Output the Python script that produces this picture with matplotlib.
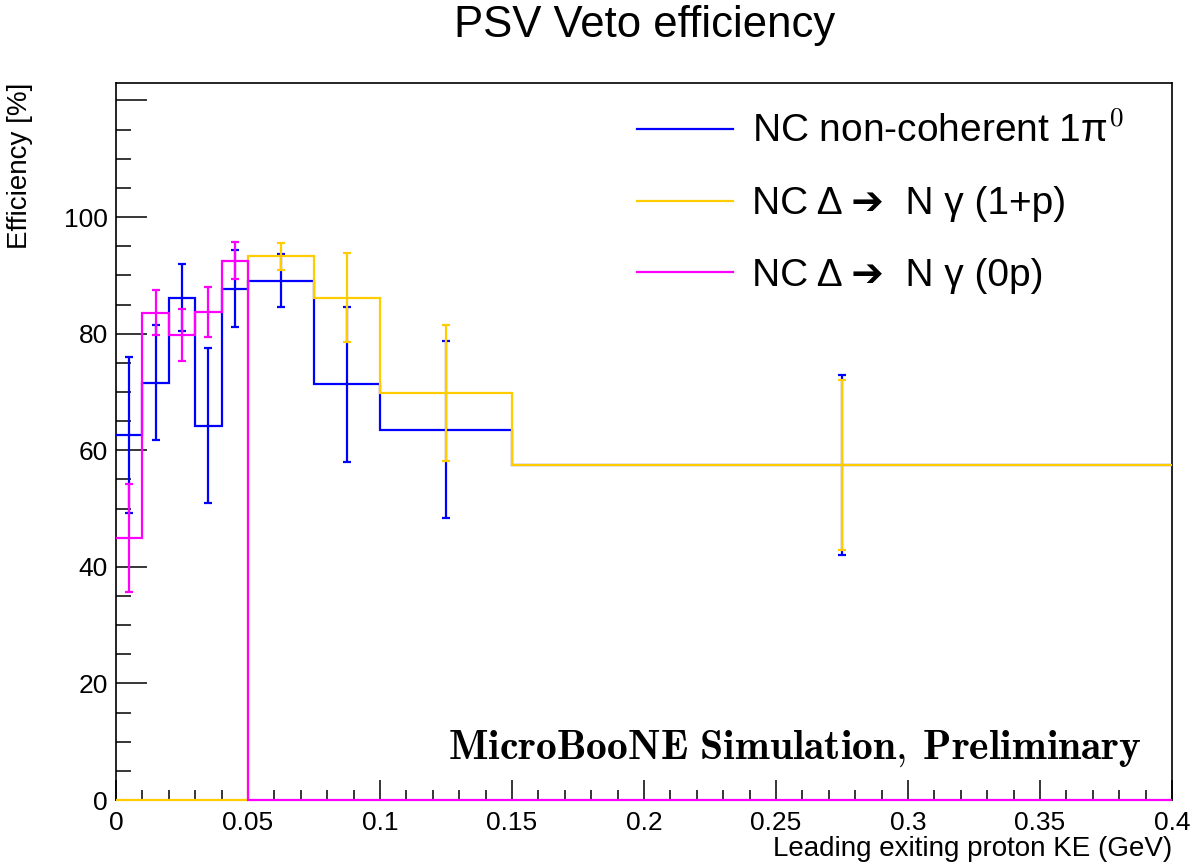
import numpy as np
import matplotlib
matplotlib.use("Agg")
import matplotlib.pyplot as plt
from matplotlib.lines import Line2D
from matplotlib.ticker import MultipleLocator, FixedLocator

plt.rcParams['font.family'] = ['Liberation Sans', 'DejaVu Sans']
plt.rcParams['mathtext.fontset'] = 'cm'

# bin edges (GeV) and efficiencies (%)
edges = [0, 0.01, 0.02, 0.03, 0.04, 0.05, 0.075, 0.1, 0.15, 0.4]
eff_pi0 = [62.6, 71.6, 86.2, 64.2, 87.7, 89.1, 71.3, 63.5, 57.5]
err_pi0 = [13.4, 9.8, 5.7, 13.3, 6.6, 4.5, 13.3, 15.2, 15.4]
eff_1p = [0, 0, 0, 0, 0, 93.3, 86.2, 69.8, 57.5]
err_1p = [0, 0, 0, 0, 0, 2.3, 7.6, 11.6, 14.6]
eff_0p = [44.9, 83.6, 79.8, 83.7, 92.5, 0, 0, 0, 0]
err_0p = [9.3, 3.9, 4.5, 4.3, 3.2, 0, 0, 0, 0]

labels = [r"NC non-coherent 1π$^{\mathsf{0}}$",
          "NC Δ ➔  N γ (1+p)",
          "NC Δ ➔  N γ (0p)"]
colors = ["#0000ff", "#ffcc00", "#ff00ff"]

fig = plt.figure(figsize=(12, 8.68), dpi=100)
ax = fig.add_axes([116/1200, 1-800/868, 1056/1200, 717/868])

edges = np.array(edges)
centers = 0.5 * (edges[1:] + edges[:-1])
for vals, errs, c in zip([eff_pi0, eff_1p, eff_0p], [err_pi0, err_1p, err_0p], colors):
    vals = np.array(vals)
    errs = np.array(errs)
    ax.stairs(vals, edges, baseline=None, color=c, lw=1.6, clip_on=False, zorder=3)
    m = vals > 0
    ax.errorbar(centers[m], vals[m], yerr=errs[m], fmt='none', ecolor=c,
                elinewidth=1.6, capsize=2.7, capthick=1.6, zorder=3)

ax.set_xlim(0, 0.4)
ax.set_ylim(0, 123)
ax.xaxis.set_major_locator(MultipleLocator(0.05))
ax.xaxis.set_minor_locator(MultipleLocator(0.01))
ax.yaxis.set_major_locator(FixedLocator([0, 20, 40, 60, 80, 100, 120]))
ax.yaxis.set_minor_locator(MultipleLocator(5))
ax.set_xticks([0, 0.05, 0.1, 0.15, 0.2, 0.25, 0.3, 0.35, 0.4],
              ["0", "0.05", "0.1", "0.15", "0.2", "0.25", "0.3", "0.35", "0.4"])
ax.set_yticks([0, 20, 40, 60, 80, 100, 120], ["0", "20", "40", "60", "80", "100", ""])
ax.tick_params(axis='both', which='both', direction='in', width=1.1, labelsize=19)
ax.tick_params(axis='x', which='major', length=14.4, pad=8)
ax.tick_params(axis='x', which='minor', length=7.2)
ax.tick_params(axis='y', which='major', length=22.3, pad=6)
ax.tick_params(axis='y', which='minor', length=10.8)
for s in ax.spines.values():
    s.set_linewidth(1.2)

ax.set_xlabel("Leading exiting proton KE (GeV)", fontsize=20, loc='right')
ax.xaxis.set_label_coords(1.0, -0.05)
ax.set_ylabel("Efficiency [%]", fontsize=20, loc='top')
ax.yaxis.set_label_coords(-0.079, 1.0)

fig.text(0.537, 1-36.7/868, "PSV Veto efficiency", fontsize=31.5, ha='center', va='baseline')

handles = [Line2D([], [], color=c, lw=1.6) for c in colors]
ax.legend(handles, labels, loc='upper left', bbox_to_anchor=(0.4934, 0.9597),
          frameon=False, fontsize=28, handlelength=2.47, handletextpad=0.48,
          labelspacing=0.92, borderpad=0, borderaxespad=0)

ax.text(0.9716, 0.057, r"$\mathbf{MicroBooNE\ Simulation,\:Preliminary}$",
        transform=ax.transAxes, ha='right', va='baseline', fontsize=30)

fig.savefig("out.png", dpi=100)
